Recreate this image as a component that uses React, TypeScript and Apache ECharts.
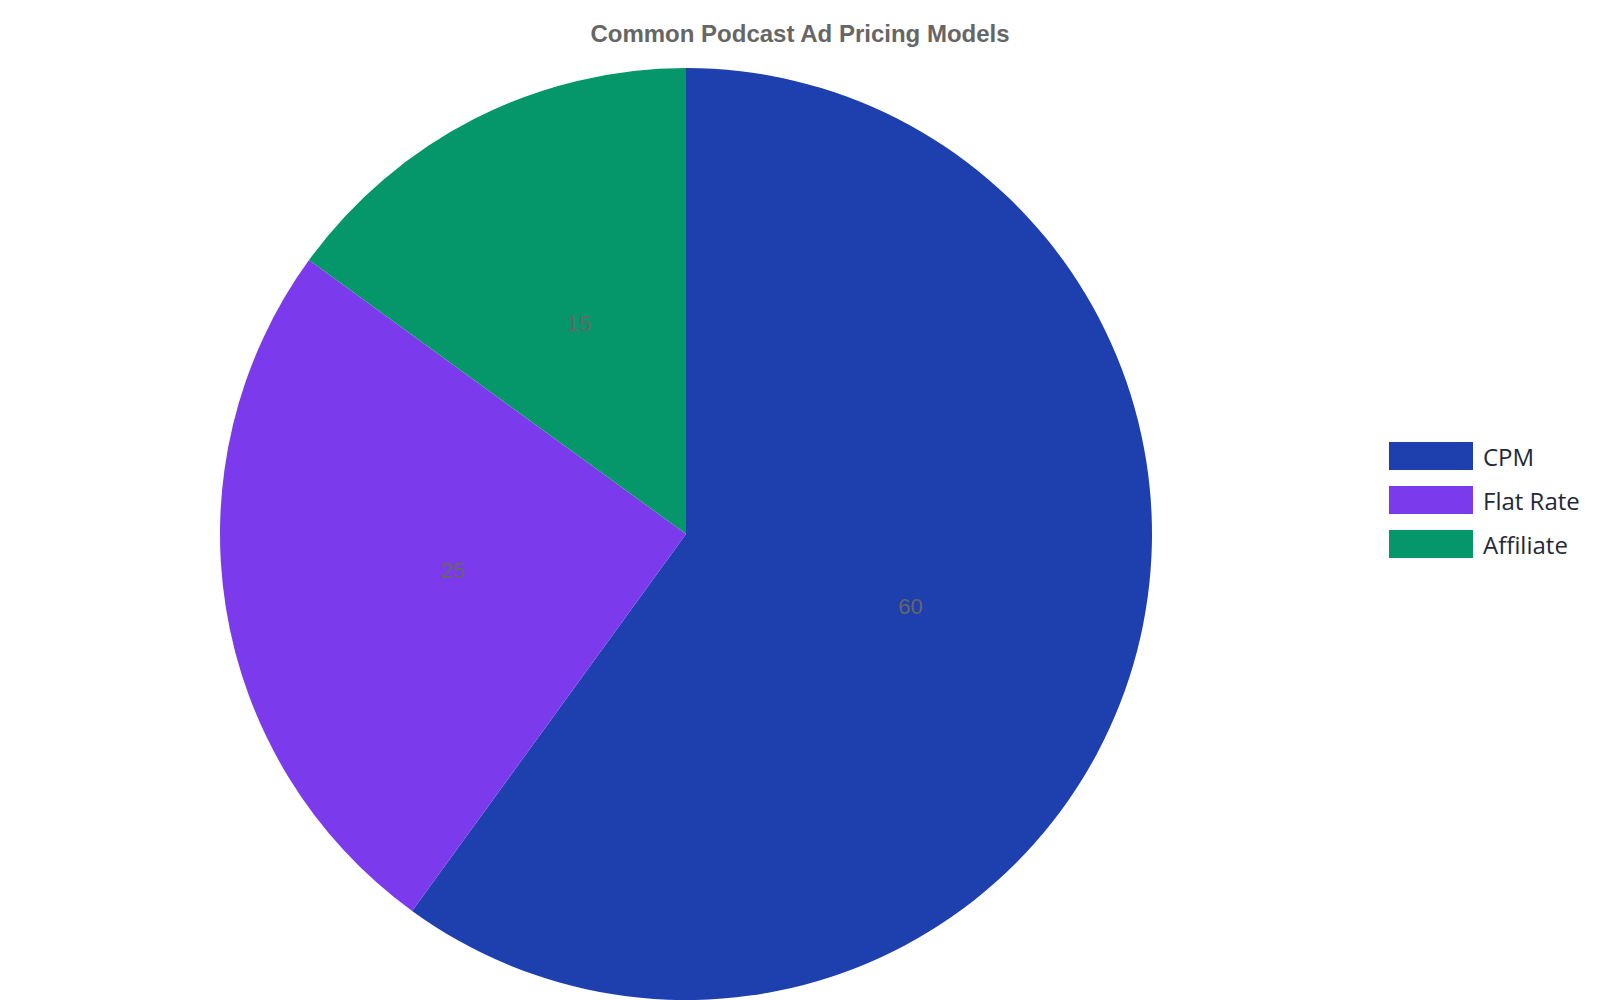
import React, { useEffect, useRef } from "react";
import * as echarts from "echarts";

const categories = ["CPM", "Flat Rate", "Affiliate"];
const values = [60, 25, 15];
const colors = ["#1e40af", "#7c3aed", "#059669"];
const titleText = "Common Podcast Ad Pricing Models";

export default function App() {
  const ref = useRef<HTMLDivElement>(null);
  useEffect(() => {
    if (!ref.current) return;
    const chart = echarts.init(ref.current, undefined, { renderer: "svg" });
    chart.setOption({
      animation: false,
      title: {
        text: titleText,
        left: "center",
        top: 16,
        textStyle: {
          fontFamily: "Liberation Sans, Arial, sans-serif",
          fontWeight: "bold",
          fontSize: 24,
          color: "#666666",
        },
      },
      legend: {
        orient: "vertical",
        left: 1384,
        top: 437,
        itemWidth: 84,
        itemHeight: 28,
        itemGap: 16,
        icon: "rect",
        data: categories,
        textStyle: {
          fontFamily: "Open Sans, Noto Sans, sans-serif",
          fontSize: 24,
          color: "#1f2937",
          padding: [0, 0, 0, 5],
        },
      },
      series: [
        {
          type: "pie",
          center: [686, 534],
          radius: 466,
          startAngle: 90,
          clockwise: true,
          data: categories.map((name, i) => ({
            name,
            value: values[i],
            itemStyle: { color: colors[i] },
          })),
          label: {
            show: true,
            position: "inside",
            formatter: "{c}",
            color: "#666666",
            fontSize: 22,
            fontFamily: "Liberation Sans, Arial, sans-serif",
          },
          labelLine: { show: false },
          emphasis: { disabled: true },
        },
      ],
    });
    return () => chart.dispose();
  }, []);
  return (
    <div
      ref={ref}
      style={{ position: "fixed", left: 0, top: 0, width: 1600, height: 1000, background: "#fff" }}
    />
  );
}
